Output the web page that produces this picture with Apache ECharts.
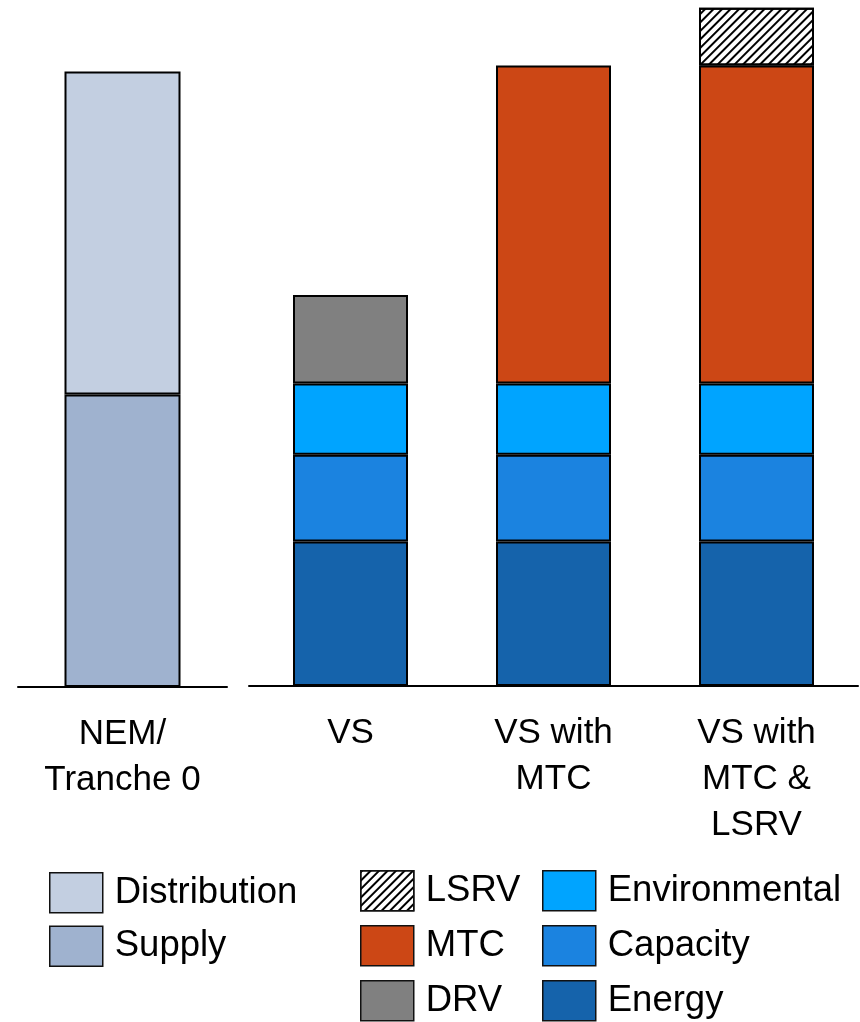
<!DOCTYPE html>
<html>
<head>
<meta charset="utf-8">
<script src="https://cdn.jsdelivr.net/npm/echarts@6/dist/echarts.min.js"></script>
<style>
  html, body { margin: 0; padding: 0; background: #fff; }
  #chart { width: 860px; height: 1022px; }
</style>
</head>
<body>
<div id="chart"></div>
<script>
// Categories for the two panels
const leftCategories = ['NEM/\nTranche 0'];
const rightCategories = ['VS', 'VS with\nMTC', 'VS with\nMTC &\nLSRV'];

// Left panel components (bottom to top)
const supply = [8.6];
const distribution = [9.5];

// Right panel components (bottom to top)
const energy = [4.25, 4.25, 4.25];
const capacity = [2.55, 2.55, 2.55];
const environmental = [2.1, 2.1, 2.1];
const drv = [2.6, null, null];
const mtc = [null, 9.35, 9.35];
const lsrv = [null, null, 1.7];

const FONT = '"Liberation Sans", Arial, sans-serif';
const border = { borderColor: '#000', borderWidth: 2 };

function bar(name, data, color, axis, width, extra) {
  return {
    name: name,
    type: 'bar',
    stack: axis === 0 ? 'left' : 'right',
    xAxisIndex: axis,
    yAxisIndex: axis,
    barWidth: width,
    data: data,
    itemStyle: Object.assign({ color: color }, border, extra || {}),
    emphasis: { disabled: true }
  };
}

const chart = echarts.init(document.getElementById('chart'));

const legendText = {
  fontSize: 36.5, fontFamily: FONT, color: '#000', lineHeight: 40, padding: [0, 0, 0, 7]
};

function legend(names, left, top, gap) {
  return {
    data: names,
    orient: 'vertical', left: left, top: top, height: 200, padding: 0,
    itemWidth: 53, itemHeight: 40, itemGap: gap,
    icon: 'rect', selectedMode: false, textStyle: legendText,
    itemStyle: { borderWidth: 1.5, borderColor: '#111' }
  };
}

chart.setOption({
  animation: false,
  grid: [
    { left: 18, right: 633, top: 7, bottom: 335 },
    { left: 249, right: 2, top: 6, bottom: 336 }
  ],
  xAxis: [0, 1].map(i => ({
    type: 'category',
    gridIndex: i,
    data: i === 0 ? leftCategories : rightCategories,
    axisLine: { lineStyle: { color: '#000', width: 2 } },
    axisTick: { show: false },
    axisLabel: {
      color: '#000', fontSize: 35, fontFamily: FONT, lineHeight: 46, margin: 24,
      interval: 0
    }
  })),
  yAxis: [0, 1].map(i => ({
    type: 'value', gridIndex: i, min: 0, max: 20, show: false,
    splitLine: { show: false }
  })),
  legend: [
    legend(['Distribution', 'Supply'], 49, 872, 12),
    legend(['LSRV', 'MTC', 'DRV'], 360, 870, 13.5),
    legend(['Environmental', 'Capacity', 'Energy'], 542, 870, 13.5)
  ],
  series: [
    bar('Supply', supply, '#9fb2cf', 0, 116),
    bar('Distribution', distribution, '#c3cfe1', 0, 116),
    bar('Energy', energy, '#1563ab', 1, 115),
    bar('Capacity', capacity, '#1b83e0', 1, 115),
    bar('Environmental', environmental, '#00a4ff', 1, 115),
    bar('DRV', drv, '#808080', 1, 115),
    bar('MTC', mtc, '#cc4715', 1, 115),
    bar('LSRV', lsrv, '#ffffff', 1, 115, {
      decal: {
        symbol: 'rect', symbolSize: 1, color: '#000',
        dashArrayX: [1, 0], dashArrayY: [2, 4], rotation: -Math.PI / 4
      }
    })
  ]
});
</script>
</body>
</html>
